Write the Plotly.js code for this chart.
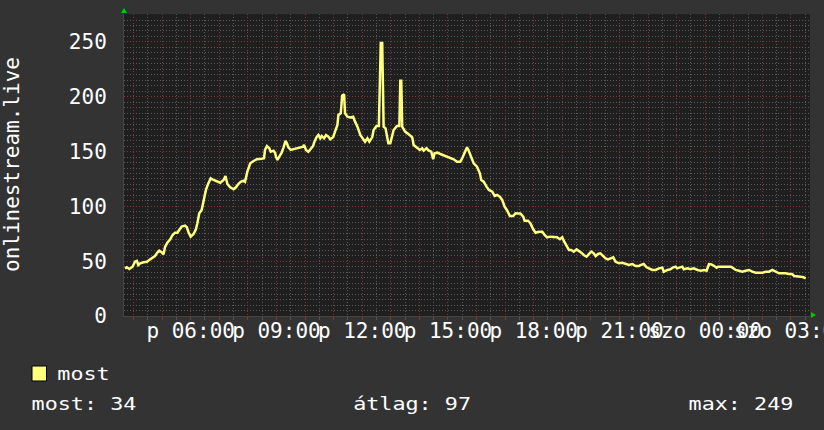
<!DOCTYPE html>
<html>
<head>
<meta charset="utf-8">
<script src="https://cdn.plot.ly/plotly-3.0.1.min.js"></script>
<style>html,body{margin:0;padding:0;background:#333333;}#chart{width:824px;height:430px;}</style>
</head>
<body>
<div id="chart"></div>
<script>
// time in minutes since Friday 00:00
const times = [
222,226,231,238,243,247,250,254,261,268,
273,278,285,290,294,299,303,306,311,317,
322,327,332,336,341,348,352,355,360,366,
371,374,378,383,387,392,397,402,408,415,
422,429,433,437,443,450,455,460,465,471,
474,479,485,492,499,509,514,516,520,525,
528,534,537,539,542,546,551,555,559,562,
565,570,576,583,590,596,598,602,607,612,
617,619,624,628,632,635,640,644,649,653,
659,663,668,670,675,678,682,684,689,695,
701,705,710,716,722,726,731,735,741,744,
750,755,759,762,765,769,773,775,779,786,
793,798,800,802,804,807,810,817,825,828,
835,841,846,849,855,860,865,869,872,878,
884,891,898,905,912,919,926,930,935,940,
943,949,954,961,967,970,975,981,986,993,
998,1003,1009,1014,1019,1024,1030,1037,1042,1047,
1052,1058,1061,1068,1073,1079,1084,1091,1098,1103,
1108,1115,1122,1129,1135,1140,1143,1149,1154,1159,
1164,1170,1175,1180,1185,1191,1196,1201,1206,1210,
1215,1220,1226,1231,1236,1241,1247,1252,1259,1266,
1273,1280,1287,1294,1301,1304,1311,1317,1322,1329,
1336,1343,1350,1353,1361,1367,1373,1378,1381,1387,
1392,1395,1403,1409,1416,1424,1431,1438,1443,1448,
1453,1459,1464,1467,1473,1480,1487,1494,1499,1504,
1511,1518,1525,1532,1539,1546,1553,1560,1567,1574,
1581,1588,1595,1602,1609,1615,1622,1627,1633,1640,
1646,1651
];
const most = [
43.5,44.4,42.9,45,49.5,50.2,46.5,48,49,49.5,
51.1,52.6,54.7,57.8,59.6,58.1,56.3,62.7,66.9,70,
73.9,76,76,78.5,81.5,82.4,80.9,76.9,72.4,74.8,
79.1,84.6,93.7,96.7,105.8,115,121,125.6,124.1,122.5,
121.6,124.1,127.7,120.4,117.4,115.6,117.4,120.4,122.5,123.5,
122.5,131.7,139.3,141.4,143,143.5,143.9,151.5,155.1,153,
149.9,150.8,149,145.4,142.3,145.4,149,153.9,159.7,157.6,
153.9,151.5,152.1,153,153.9,154.5,156,151.5,149.9,153,
155.1,158.1,163,165.1,162.1,164.2,162.1,165.1,163.6,161.2,
163,168.2,174.3,183.4,184.9,201,202.3,184.9,181.8,181.2,
181.8,177.3,172.7,165.1,161.2,159,162.1,159,163,169.7,
173.4,173.4,249,249,172.7,171.2,162,157.6,157.6,169.7,
173.4,173.4,214.7,214.7,172.7,171,168.2,166,163,156,
153.9,151.5,153,150.8,153,150.8,149.9,143,148.5,149,
147.8,146.6,145.4,144.8,143,140.8,140.8,143.9,149.9,153.9,
151.5,143.9,139.3,136.2,130.2,124.1,122.5,118,115,113.4,
109.5,110.4,108.8,105.8,99.7,96.5,91.2,91.2,93.7,93.5,
93.5,90.6,87,87,84.6,79.1,76,76.9,76.9,73.9,
71.8,72.4,71.8,71.8,70,71.8,68.7,63.2,60.2,60.2,
58.7,60.8,59.6,57.8,55.7,54.1,56.6,58.7,57.2,54.7,
56.6,57.2,54.7,52.6,51.7,52.6,53.5,49.5,48.1,48.6,
47.4,46.5,47.4,45.6,45.6,46.5,47.4,44.4,43.5,42,
42,43.5,44.1,40.4,42,42.6,44.4,45,43.5,44.4,
45,42.6,43.5,42.6,43.5,42,41.3,42,41.3,47.4,
47.1,45.6,44.1,45,45,45.6,45.6,45,43.5,42,
41.3,40.4,41.3,42,40.4,39.5,39.5,39.5,40.4,40.4,
42,40.4,39,39,39,38.3,38.3,36.5,35.9,35.9,
35.3,34.4
];
const hourTicks = [240,300,360,420,480,540,600,660,720,780,840,900,960,1020,1080,1140,1200,1260,1320,1380,1440,1500,1560,1620];
const hourLabels = ['','','p 06:00','','','p 09:00','','','p 12:00','','','p 15:00','','','p 18:00','','','p 21:00','','','szo 00:00','','','szo 03:00'];
const yTicks = [0,50,100,150,200,250];
const seriesName = 'most';
const axisTitle = 'onlinestream.live';
const statTexts = ['most: 34', 'átlag: 97', 'max: 249'];

const FONT = 'DejaVu Sans Mono';
const MAJOR = '#843434';
const MINOR = '#5a5a5a';
const DOTS = '1px,2px';

const trace = {
  x: times, y: most, type: 'scatter', mode: 'lines', name: seriesName,
  line: {color: '#ffff80', width: 2.5}, hoverinfo: 'x+y'
};

const layout = {
  width: 824, height: 430,
  margin: {l: 124, r: 14, t: 14, b: 114, pad: 0},
  paper_bgcolor: '#333333', plot_bgcolor: '#1f1f1f',
  showlegend: false,
  font: {family: FONT, color: '#ffffff', size: 21},
  xaxis: {
    range: [220, 1660], tickmode: 'array', tickvals: hourTicks, ticktext: hourLabels,
    tickangle: 0, ticklabeloverflow: 'allow', ticklabelstandoff: -7,
    showgrid: true, gridcolor: MAJOR, griddash: DOTS, gridwidth: 1,
    ticks: 'outside', ticklen: 3, tickcolor: '#8a3535', zeroline: false,
    showline: true, linecolor: '#444444', linewidth: 1,
    tickfont: {family: FONT, size: 21, color: '#ffffff'},
    minor: {tickmode: 'linear', tick0: 0, dtick: 30, showgrid: true, gridcolor: MINOR,
            griddash: DOTS, gridwidth: 1, ticks: 'outside', ticklen: 3, tickcolor: '#555555'},
    fixedrange: true
  },
  yaxis: {
    range: [0, 275.5], tickmode: 'array', tickvals: yTicks, ticktext: yTicks.map(String),
    showgrid: true, gridcolor: MAJOR, griddash: DOTS, gridwidth: 1,
    ticks: '', zeroline: false, showline: true, linecolor: '#444444', linewidth: 1,
    ticklabelstandoff: 12,
    tickfont: {family: FONT, size: 21, color: '#ffffff'},
    minor: {tickmode: 'linear', tick0: 0, dtick: 5, showgrid: true, gridcolor: MINOR,
            griddash: DOTS, gridwidth: 1},
    fixedrange: true
  },
  shapes: [
    {type: 'rect', xref: 'paper', yref: 'paper', x0: -0.1341, x1: -0.1130, y0: -0.2152, y1: -0.1656,
     fillcolor: '#ffff80', line: {color: '#000000', width: 1}},
    {type: 'path', xref: 'paper', yref: 'paper', xsizemode: 'pixel', ysizemode: 'pixel',
     xanchor: 0, yanchor: 1, path: 'M-3,1 L3,1 L0,6 Z', fillcolor: '#00cc00', line: {width: 0}},
    {type: 'path', xref: 'paper', yref: 'paper', xsizemode: 'pixel', ysizemode: 'pixel',
     xanchor: 1, yanchor: 0, path: 'M1,-2 L1,4 L6,1 Z', fillcolor: '#00cc00', line: {width: 0}}
  ],
  annotations: [
    {text: axisTitle, xref: 'paper', yref: 'paper', x: 0, y: 0.5, xshift: -112, textangle: -90,
     xanchor: 'center', yanchor: 'middle', showarrow: false, font: {family: FONT, size: 21, color: '#ffffff'}},
    {text: seriesName, xref: 'paper', yref: 'paper', x: (83.7 - 124) / 686, y: -0.1920,
     xanchor: 'center', yanchor: 'middle', showarrow: false, font: {family: FONT, size: 17, color: '#ffffff'}},
    {text: statTexts[0], xref: 'paper', yref: 'paper', x: (84 - 124) / 686, y: -0.2914,
     xanchor: 'center', yanchor: 'middle', showarrow: false, font: {family: FONT, size: 17, color: '#ffffff'}},
    {text: statTexts[1], xref: 'paper', yref: 'paper', x: (412 - 124) / 686, y: -0.2914,
     xanchor: 'center', yanchor: 'middle', showarrow: false, font: {family: FONT, size: 17, color: '#ffffff'}},
    {text: statTexts[2], xref: 'paper', yref: 'paper', x: (741 - 124) / 686, y: -0.2914,
     xanchor: 'center', yanchor: 'middle', showarrow: false, font: {family: FONT, size: 17, color: '#ffffff'}}
  ]
};

Plotly.newPlot('chart', [trace], layout, {displayModeBar: false, staticPlot: true}).then(function () {
  const pitch = 13.1;
  const legendTexts = [seriesName].concat(statTexts);
  document.querySelectorAll('#chart .annotation-text').forEach(function (el) {
    const t = el.textContent;
    if (legendTexts.indexOf(t) >= 0) {
      el.setAttribute('textLength', (t.length * pitch).toFixed(1));
      el.setAttribute('lengthAdjust', 'spacingAndGlyphs');
    }
  });
});
</script>
</body>
</html>
